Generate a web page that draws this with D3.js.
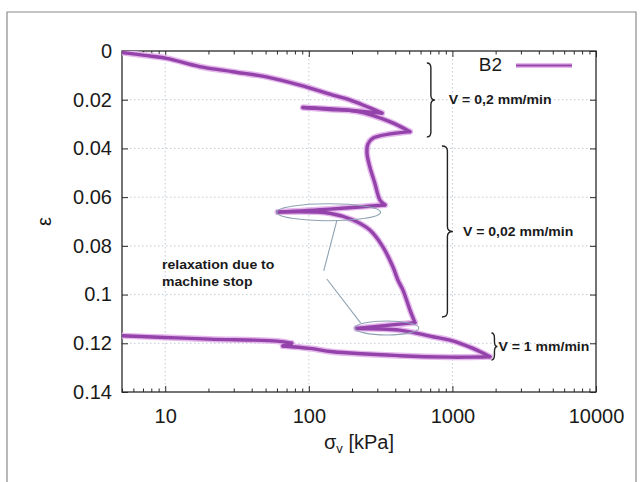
<!DOCTYPE html>
<html>
<head>
<meta charset="utf-8">
<script src="https://cdn.jsdelivr.net/npm/d3@7"></script>
<style>
  body { margin: 0; background: #fff; }
  svg { display: block; }
  text { font-family: "Liberation Sans", Arial, sans-serif; fill: #1a1a1a; }
</style>
</head>
<body>
<svg id="chart" width="644" height="482"></svg>
<script>
// Oedometer test B2: vertical stress (kPa) vs. vertical strain
const sigma = [
  5, 7.2, 10.2, 17.4, 29.5, 50.7, 86.5, 147, 193, 323,
  164, 91, 140, 216, 366, 506,
  279, 258, 254, 266, 288, 313, 339,
  140, 60.8, 140, 203, 266, 328, 385, 417, 452, 506, 548,
  215, 430, 731, 961, 1390, 1824,
  1256, 961, 430, 147, 102, 66, 76, 60, 20.4, 9.9, 5
];
const strain = [
  0.0006, 0.0018, 0.0030, 0.0064, 0.0085, 0.0106, 0.0140, 0.0181, 0.0201, 0.0255,
  0.0240, 0.0232, 0.0240, 0.0248, 0.0290, 0.0331,
  0.0358, 0.0382, 0.0419, 0.0476, 0.0542, 0.0612, 0.0632,
  0.0649, 0.0661, 0.0666, 0.0694, 0.0735, 0.0804, 0.0886, 0.0940, 0.0981, 0.1063, 0.1115,
  0.1139, 0.1146, 0.1173, 0.1187, 0.1221, 0.1255,
  0.1257, 0.1257, 0.1251, 0.1235, 0.1221, 0.1211, 0.1200, 0.1191, 0.1183, 0.1176, 0.1169
];
// indices where the loading direction reverses (load/unload turning points)
const turningPoints = [9, 11, 15, 22, 24, 33, 34, 39, 45, 46];
const seriesName = "B2";

const xTicks = [10, 100, 1000, 10000];
const xTickLabels = ["10", "100", "1000", "10000"];
const yTicks = [0, 0.02, 0.04, 0.06, 0.08, 0.1, 0.12, 0.14];
const yTickLabels = ["0", "0.02", "0.04", "0.06", "0.08", "0.1", "0.12", "0.14"];

// loading-rate phases: label, strain span, brace position (kPa)
const rateLabels = ["V = 0,2 mm/min", "V = 0,02 mm/min", "V = 1 mm/min"];
const rateSpans = [[0.0049, 0.0353], [0.0390, 0.1092], [0.1158, 0.1269]];
const rateBraceAt = [664, 845, 1870];

// relaxation loops (machine stop): stress span (kPa) and strain at centre
const relaxSpans = [[59.8, 316], [209, 584]];
const relaxStrain = [0.0662, 0.1137];
const relaxNote = ["relaxation due to", "machine stop"];

const W = 644, H = 482;
const m = { left: 122, right: 596, top: 51, bottom: 392 };

const svg = d3.select("#chart");
svg.append("rect").attr("width", W).attr("height", H).attr("fill", "#fff");

// outer frame
svg.append("path")
  .attr("d", `M7,${H + 2} V12 H636 V${H + 2}`)
  .attr("fill", "none").attr("stroke", "#8a8a8a").attr("stroke-width", 1.2);

const x = d3.scaleLog().domain([5, 10000]).range([m.left, m.right]);
const y = d3.scaleLinear().domain([0, 0.14]).range([m.top, m.bottom]);

// grid
const grid = svg.append("g").attr("stroke", "#b9c6d2").attr("stroke-width", 0.9)
  .attr("stroke-dasharray", "1.5,2.5");
xTicks.filter(v => v < 10000).forEach(v => {
  grid.append("line").attr("x1", x(v)).attr("x2", x(v)).attr("y1", m.top).attr("y2", m.bottom);
});
yTicks.filter(v => v > 0 && v < 0.14).forEach(v => {
  grid.append("line").attr("x1", m.left).attr("x2", m.right).attr("y1", y(v)).attr("y2", y(v));
});

// minor log ticks
const minor = [];
[1, 10, 100, 1000].forEach(d => { for (let k = 2; k <= 9; k++) { const v = k * d; if (v >= 5 && v <= 10000 && !xTicks.includes(v)) minor.push(v); } });

const axisColor = "#2a2a2a";
const fmtX = (d) => xTickLabels[xTicks.indexOf(d)];
const fmtY = (d) => yTickLabels[yTicks.indexOf(d)];

const gB = svg.append("g").attr("transform", `translate(0,${m.bottom})`)
  .call(d3.axisBottom(x).tickValues(xTicks).tickFormat(fmtX).tickSizeInner(-6).tickSizeOuter(0).tickPadding(17));
const gBm = svg.append("g").attr("transform", `translate(0,${m.bottom})`)
  .call(d3.axisBottom(x).tickValues(minor).tickFormat("").tickSizeInner(-3.5).tickSizeOuter(0));
const gT = svg.append("g").attr("transform", `translate(0,${m.top})`)
  .call(d3.axisTop(x).tickValues(xTicks).tickFormat("").tickSizeInner(-6).tickSizeOuter(0));
const gTm = svg.append("g").attr("transform", `translate(0,${m.top})`)
  .call(d3.axisTop(x).tickValues(minor).tickFormat("").tickSizeInner(-3.5).tickSizeOuter(0));
const gL = svg.append("g").attr("transform", `translate(${m.left},0)`)
  .call(d3.axisLeft(y).tickValues(yTicks).tickFormat(fmtY).tickSizeInner(-6).tickSizeOuter(0).tickPadding(10));
const gR = svg.append("g").attr("transform", `translate(${m.right},0)`)
  .call(d3.axisRight(y).tickValues(yTicks).tickFormat("").tickSizeInner(-6).tickSizeOuter(0));

[gB, gBm, gT, gTm, gL, gR].forEach(g => {
  g.select(".domain").remove();
  g.selectAll("line").attr("stroke", axisColor).attr("stroke-width", 1);
  g.selectAll("text").attr("font-size", 20).attr("fill", "#1a1a1a")
    .attr("font-family", '"Liberation Sans", Arial, sans-serif');
});
gB.selectAll("text").attr("dy", "0.71em");
svg.append("rect").attr("x", m.left).attr("y", m.top)
  .attr("width", m.right - m.left).attr("height", m.bottom - m.top)
  .attr("fill", "none").attr("stroke", axisColor).attr("stroke-width", 1.3);

// axis titles
const xt = svg.append("text").attr("x", (m.left + m.right) / 2).attr("y", 449)
  .attr("text-anchor", "middle").attr("font-size", 20);
xt.append("tspan").text("σ");
xt.append("tspan").attr("font-size", 13).attr("dy", 4).text("v");
xt.append("tspan").attr("dy", -4).text(" [kPa]");

svg.append("text").attr("transform", `translate(46,${(m.top + m.bottom) / 2}) rotate(-90)`)
  .attr("text-anchor", "middle").attr("dominant-baseline", "middle")
  .attr("font-size", 20).text("ε");

// curve, drawn as smooth branches between turning points
const pts = sigma.map((s, i) => [s, strain[i]]);
const cuts = [0, ...turningPoints, pts.length - 1];
const branches = [];
for (let i = 0; i < cuts.length - 1; i++) branches.push(pts.slice(cuts[i], cuts[i + 1] + 1));
const line = d3.line().x(d => x(d[0])).y(d => y(d[1])).curve(d3.curveCatmullRom.alpha(0.5));

svg.append("clipPath").attr("id", "plotclip").append("rect")
  .attr("x", m.left).attr("y", m.top).attr("width", m.right - m.left).attr("height", m.bottom - m.top);
const gc = svg.append("g").attr("clip-path", "url(#plotclip)")
  .attr("fill", "none").attr("stroke-linejoin", "round").attr("stroke-linecap", "round");
gc.selectAll("path.halo").data(branches).join("path").attr("class", "halo")
  .attr("d", line).attr("stroke", "#e6b9ec").attr("stroke-width", 6.2);
gc.selectAll("path.core").data(branches).join("path").attr("class", "core")
  .attr("d", line).attr("stroke", "#9443ab").attr("stroke-width", 3.4);

// relaxation ellipses and leader lines
const ann = svg.append("g").attr("fill", "none").attr("stroke", "#8ea2b2").attr("stroke-width", 1.1);
const relaxRy = [8.5, 7];
relaxSpans.forEach((s, i) => {
  const x0 = x(s[0]), x1 = x(s[1]);
  ann.append("ellipse").attr("cx", (x0 + x1) / 2).attr("cy", y(relaxStrain[i]))
    .attr("rx", (x1 - x0) / 2).attr("ry", relaxRy[i]);
});
const leaders = [[[157, 0.0694], [127, 0.0903]], [[133.5, 0.0936], [230, 0.1117]]];
leaders.forEach(l => {
  ann.append("line").attr("x1", x(l[0][0])).attr("y1", y(l[0][1]))
    .attr("x2", x(l[1][0])).attr("y2", y(l[1][1]));
});
relaxNote.forEach((t, i) => {
  svg.append("text").attr("x", 162).attr("y", 266 + i * 17).attr("dominant-baseline", "middle")
    .attr("font-size", 13).attr("font-weight", "bold").attr("class", "wide").text(t);
});

// rate braces
const braceW = [8, 11, 6];
const textGap = [14, 10, 1];
function bracePath(x0, y0, y1, w) {
  const ym = (y0 + y1) / 2, xm = x0 + w / 2, r = Math.min(5, (y1 - y0) / 4);
  return `M${x0},${y0} Q${xm},${y0} ${xm},${y0 + r} L${xm},${ym - r} Q${xm},${ym} ${x0 + w},${ym}` +
         ` Q${xm},${ym} ${xm},${ym + r} L${xm},${y1 - r} Q${xm},${y1} ${x0},${y1}`;
}
rateLabels.forEach((t, i) => {
  const bx = x(rateBraceAt[i]), y0 = y(rateSpans[i][0]), y1 = y(rateSpans[i][1]);
  svg.append("path").attr("d", bracePath(bx, y0, y1, braceW[i]))
    .attr("fill", "none").attr("stroke", "#222").attr("stroke-width", 1.4);
  svg.append("text").attr("x", bx + braceW[i] + textGap[i]).attr("y", (y0 + y1) / 2 + 1)
    .attr("dominant-baseline", "middle").attr("font-size", 13).attr("font-weight", "bold")
    .attr("class", "wide").text(t);
});

// annotation lettering is set slightly wide
svg.selectAll("text.wide").each(function () {
  const w = this.getComputedTextLength();
  d3.select(this).attr("textLength", w * 1.08).attr("lengthAdjust", "spacingAndGlyphs");
});

// legend
const lg = svg.append("g");
lg.append("text").attr("x", 502).attr("y", 66).attr("text-anchor", "end")
  .attr("dominant-baseline", "middle").attr("font-size", 19).text(seriesName);
lg.append("line").attr("x1", 516).attr("x2", 572).attr("y1", 65.5).attr("y2", 65.5)
  .attr("stroke", "#e6b9ec").attr("stroke-width", 5);
lg.append("line").attr("x1", 516).attr("x2", 572).attr("y1", 65.5).attr("y2", 65.5)
  .attr("stroke", "#9443ab").attr("stroke-width", 2.2);
</script>
</body>
</html>
